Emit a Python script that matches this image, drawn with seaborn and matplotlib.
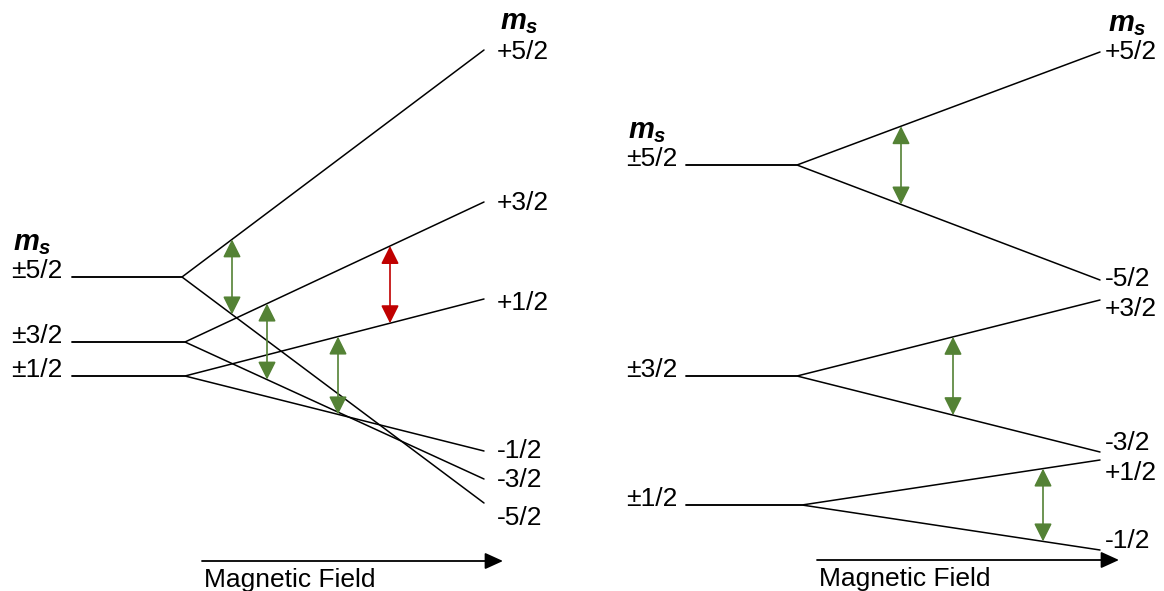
import numpy as np
import pandas as pd
import matplotlib
matplotlib.use('Agg')
import matplotlib.pyplot as plt
import seaborn as sns

# ---------- data (energies in screen units) ----------
zf_labels = ['±5/2', '±3/2', '±1/2']
up_labels = ['+5/2', '+3/2', '+1/2']
down_labels = ['-5/2', '-3/2', '-1/2']

left_zero = [277, 342, 376]
left_split = [182, 185, 185]
left_up_end = [50, 202, 299]
left_down_end = [503, 479, 451]

right_zero = [165, 376, 505]
right_split = [797, 797, 802]
right_up_end = [52, 300, 460]
right_down_end = [280, 452, 550]

# transitions: field position, upper level, lower level, colour
left_trans_x = [232, 267, 338, 390]
left_trans_a = ['+5/2', '+3/2', '+1/2', '+3/2']
left_trans_b = ['-5/2', '-3/2', '-1/2', '+1/2']
left_trans_c = ['green', 'green', 'green', 'red']

right_trans_x = [901, 953, 1043]
right_trans_a = ['+5/2', '+3/2', '+1/2']
right_trans_b = ['-5/2', '-3/2', '-1/2']
right_trans_c = ['green', 'green', 'green']

COLORS = {'green': '#548235', 'red': '#C00000'}
FS = 19

sns.set_theme(style='white')
plt.rcParams['font.family'] = ['Liberation Sans', 'DejaVu Sans']
plt.rcParams['text.color'] = 'black'
plt.rcParams['mathtext.fontset'] = 'custom'
plt.rcParams['mathtext.it'] = 'Liberation Sans:italic:bold'
plt.rcParams['mathtext.rm'] = 'Liberation Sans:italic:bold'

fig = plt.figure(figsize=(11.64, 5.91), dpi=100)
ax = fig.add_axes([0, 0, 1, 1])
ax.set_xlim(0, 1164)
ax.set_ylim(591, 0)
ax.axis('off')


def branches(x0, x1, zero, split, up_end, down_end):
    rows = []
    for i in range(len(zero)):
        for lab, end in ((up_labels[i], up_end[i]), (down_labels[i], down_end[i])):
            for x, y in ((x0, zero[i]), (split[i], zero[i]), (x1, end)):
                rows.append({'x': x, 'y': y, 'seg': lab})
    return pd.DataFrame(rows)


def panel(x0, x1, zero, split, up_end, down_end, tx, ta, tb, tc,
          lab_l, lab_r, nudge, field_y):
    df = branches(x0, x1, zero, split, up_end, down_end)
    sns.lineplot(data=df, x='x', y='y', units='seg', estimator=None, sort=False,
                 color='black', lw=1.1, ax=ax, legend=False)

    # zero-field labels
    for i, lab in enumerate(zf_labels):
        ax.text(lab_l, zero[i] - 6, lab, fontsize=FS, ha='left', va='center')
    ax.text(lab_l + 2, zero[0] - 34, r'$m_s$', fontsize=21, ha='left', va='center')

    # high-field labels
    ends = dict(zip(up_labels + down_labels, list(up_end) + list(down_end)))
    for lab, y in ends.items():
        ax.text(lab_r, y + nudge.get(lab, 0), lab, fontsize=FS, ha='left', va='center')
    ax.text(lab_r + 3, ends['+5/2'] - 28, r'$m_s$', fontsize=21, ha='left', va='center')

    # transitions, ends taken on the level lines
    paths = {}
    for lab in ends:
        i = (up_labels + down_labels).index(lab) % 3
        paths[lab] = ([x0, split[i], x1], [zero[i], zero[i], ends[lab]])
    for x, a, b, c in zip(tx, ta, tb, tc):
        ya = np.interp(x, *paths[a])
        yb = np.interp(x, *paths[b])
        ax.annotate('', xy=(x, yb), xytext=(x, ya),
                    arrowprops=dict(arrowstyle='<|-|>,head_length=1.1,head_width=0.55',
                                    mutation_scale=10, color=COLORS[c], lw=1.2,
                                    shrinkA=0, shrinkB=0))

    # magnetic field axis
    fx0 = split[0] + 20
    fx1 = x1 + 19
    ax.annotate('', xy=(fx1, field_y), xytext=(fx0, field_y),
                arrowprops=dict(arrowstyle='-|>,head_length=1.1,head_width=0.5',
                                mutation_scale=10, color='black', lw=1.3,
                                shrinkA=0, shrinkB=0))
    ax.text(fx0 + 2, field_y + 19, 'Magnetic Field', fontsize=FS, ha='left', va='center')


panel(72, 484, left_zero, left_split, left_up_end, left_down_end,
      left_trans_x, left_trans_a, left_trans_b, left_trans_c,
      lab_l=11, lab_r=497, nudge={'+5/2': 2, '-5/2': 15, '+1/2': 4, '-3/2': 1, '+3/2': 1},
      field_y=561)

panel(686, 1100, right_zero, right_split, right_up_end, right_down_end,
      right_trans_x, right_trans_a, right_trans_b, right_trans_c,
      lab_l=626, lab_r=1105,
      nudge={'+5/2': 0, '-5/2': -1, '+3/2': 9, '-3/2': -9, '+1/2': 13, '-1/2': -9},
      field_y=560)

fig.savefig('out.png', dpi=100)
